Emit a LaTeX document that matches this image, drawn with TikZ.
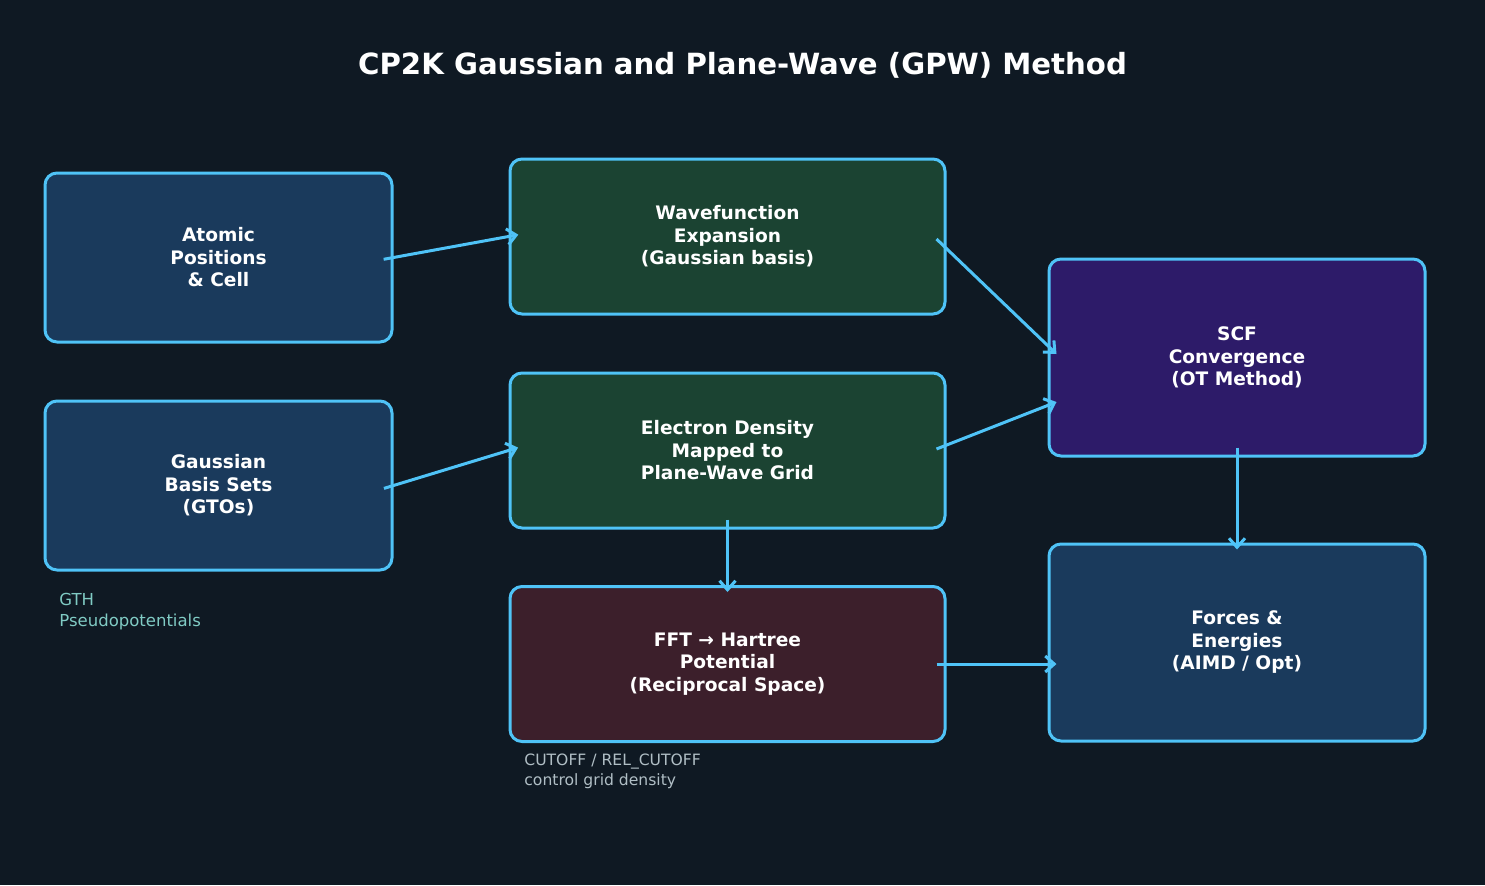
\documentclass[tikz,border=0pt]{standalone}
\usepackage{fontspec}
\setmainfont{DejaVu Sans}
\usetikzlibrary{arrows.meta}
\definecolor{bg}{HTML}{0F1923}
\definecolor{edge}{HTML}{4FC3F7}
\definecolor{fblue}{HTML}{1A3A5C}
\definecolor{fgreen}{HTML}{1B4332}
\definecolor{fpurple}{HTML}{2D1B69}
\definecolor{fmaroon}{HTML}{3C1F2B}
\definecolor{teal}{HTML}{80CBC4}
\definecolor{greytxt}{HTML}{B0BEC5}
\tikzset{
  stepbox/.style={draw=edge, line width=1.5pt, rounded corners=6pt, inner sep=0pt,
    text=white, align=center, font=\bfseries\fontsize{9.3}{11.25}\selectfont},
  leftbox/.style={stepbox, fill=fblue, minimum width=173.5pt, minimum height=84.5pt},
  midbox/.style={stepbox, minimum width=217.5pt, minimum height=77.5pt},
  rightbox/.style={stepbox, minimum width=188pt, minimum height=98.5pt},
  flow/.style={draw=edge, line width=1.5pt, -{Straight Barb[length=4.5pt,width=8pt,line width=1.5pt]},
    shorten <=-5pt, shorten >=-5pt},
  note/.style={align=left, anchor=north west, inner sep=0pt}
}
\begin{document}
\begin{tikzpicture}[x=0.5pt,y=-0.5pt]
\fill[bg] (0,0) rectangle (1485,885);
\useasboundingbox (0,0) rectangle (1485,885);
\node[text=white, font=\bfseries\fontsize{14.6}{17}\selectfont] (title) at (742.5,65) {CP2K Gaussian and Plane-Wave (GPW) Method};

\node[leftbox] (atoms) at (218.5,257.5) {Atomic\\Positions\\\& Cell};
\node[leftbox] (basis) at (218.5,485.5) {Gaussian\\Basis Sets\\(GTOs)};
\node[midbox, fill=fgreen] (wave) at (727.5,236.5) {Wavefunction\\Expansion\\(Gaussian basis)};
\node[midbox, fill=fgreen] (dens) at (727.5,450.5) {Electron Density\\Mapped to\\Plane-Wave Grid};
\node[midbox, fill=fmaroon] (fft) at (727.5,664) {FFT → Hartree\\Potential\\(Reciprocal Space)};
\node[rightbox, fill=fpurple] (scf) at (1237,357.5) {SCF\\Convergence\\(OT Method)};
\node[rightbox, fill=fblue] (forces) at (1237,642.5) {Forces \&\\Energies\\(AIMD / Opt)};

\node[note, text=teal, font=\fontsize{8.25}{10.5}\selectfont] (gth) at (59,593) {GTH\\Pseudopotentials};
\node[note, text=greytxt, font=\fontsize{7.8}{9.75}\selectfont] (cut) at (524,754) {CUTOFF / REL\_CUTOFF\\control grid density};

\draw[flow] (atoms.east) -- (wave.west);
\draw[flow] (basis.east) -- (dens.west);
\draw[flow, shorten <=0pt, shorten >=0pt] ([xshift=-5pt,yshift=-1.25pt]wave.east) -- ([xshift=4.5pt,yshift=1.75pt]scf.west);
\draw[flow, shorten <=0pt, shorten >=0pt] ([xshift=-5pt,yshift=0.75pt]dens.east) -- ([xshift=4.5pt,yshift=-22.25pt]scf.west);
\draw[flow, shorten <=-5pt, shorten >=-3.5pt] (dens.south) -- (fft.north);
\draw[flow, shorten <=-5pt, shorten >=-3.5pt] (scf.south) -- (forces.north);
\draw[flow, shorten <=0pt, shorten >=0pt] ([xshift=-5pt]fft.east) -- ([xshift=4.5pt]fft.east -| forces.west);
\end{tikzpicture}
\end{document}
